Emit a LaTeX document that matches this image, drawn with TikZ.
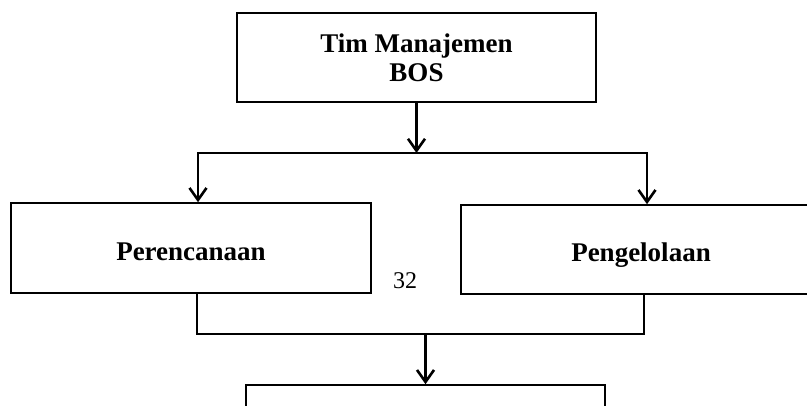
\documentclass[tikz,border=0pt]{standalone}
\usepackage{fontspec}
\setmainfont{Liberation Serif}
\usepackage{tikz}
\usetikzlibrary{arrows.meta,positioning}
\tikzset{
  kotak/.style={draw,line width=1.6pt,minimum width=360pt,minimum height=90pt,
    inner sep=0pt,align=center,font=\fontsize{27}{29}\selectfont\bfseries},
  satubaris/.style={text height=24pt,text depth=0pt},
  alur/.style={line width=2.6pt}
}

\begin{document}
\begin{tikzpicture}[x=1pt,y=1pt,>={Straight Barb[length=12pt,width=17pt]}]
  \useasboundingbox (0,0) rectangle (807,-405);
  \node[kotak,minimum width=359pt,minimum height=89pt] (tim) at (416.5,-57.5) {Tim Manajemen\\BOS};
  \node[kotak,satubaris] (rencana) at (191,-248) {Perencanaan};
  \node[kotak,satubaris,minimum height=89pt] (kelola) at (641,-249.5) {Pengelolaan};
  \node[kotak,minimum width=359pt] (lanjut) at (425.5,-430) {};
  \node[font=\fontsize{24}{28}\selectfont] (hal) at (405,-281) {32};
  % titik cabang
  \coordinate (cabangL) at (198,-153);
  \coordinate (cabangR) at (647,-153);
  \coordinate (gabungL) at (197,-334);
  \coordinate (gabungR) at (644,-334);
  \draw[alur,->] (tim.south) -- (tim.south |- cabangL);
  \draw[alur,line cap=rect] (cabangL) -- (cabangR);
  \draw[alur,->] (cabangL) -- (cabangL |- rencana.north);
  \draw[alur,->] (cabangR) -- (cabangR |- kelola.north);
  \draw[alur] (gabungL |- rencana.south) -- (gabungL) -- (gabungR) -- (gabungR |- kelola.south);
  \draw[alur,->] (lanjut.north |- gabungL) -- (lanjut.north);
\end{tikzpicture}
\end{document}
